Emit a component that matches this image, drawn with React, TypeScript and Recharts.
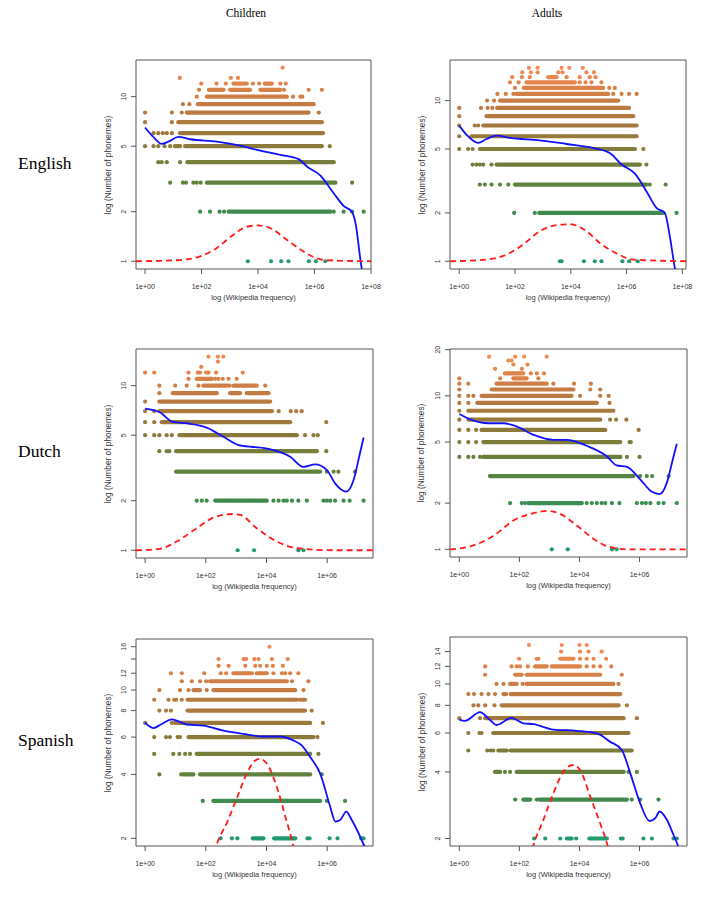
import { ComposedChart, Scatter, Line, XAxis, YAxis, ReferenceArea } from 'recharts';

type Row = { n: number; dots: number[]; runs?: number[][] };

// x values are log10(Wikipedia frequency), n = number of phonemes

const engChildRows: Row[] = [
  { n: 15, dots: [4.87] },
  { n: 13, dots: [1.23, 3.04, 3.29] },
  { n: 12, dots: [1.99, 2.53, 2.86, 3.82, 4.04, 4.79, 4.98], runs: [[3.13, 3.6], [4.24, 4.49]] },
  { n: 11, dots: [1.91, 4.92, 5.79, 6.26], runs: [[2.26, 2.78], [3.01, 3.72], [4.08, 4.79]] },
  { n: 10, dots: [1.83, 5.24, 5.5, 5.57], runs: [[2.19, 5.02]] },
  { n: 9, dots: [1.34, 1.57], runs: [[1.87, 5.97]] },
  { n: 8, dots: [0, 0.95, 1.3, 6.15], runs: [[1.48, 5.79]] },
  { n: 7, dots: [0, 0.95], runs: [[1.18, 6.26]] },
  { n: 6, dots: [0.3, 0.47, 0.63, 0.77, 0.95], runs: [[1.24, 6.3]] },
  { n: 5, dots: [0, 0.3, 0.47, 0.69, 0.89, 6.54], runs: [[1.06, 1.24], [1.42, 6.26]] },
  { n: 4, dots: [0.47, 0.59, 0.77, 1.24], runs: [[1.5, 6.68]] },
  { n: 3, dots: [0.89, 1.34, 1.45, 1.71, 1.83, 1.97, 7.33], runs: [[2.19, 6.74]] },
  { n: 2, dots: [1.95, 2.3, 2.64, 2.8, 6.68, 7.03, 7.33, 7.74], runs: [[2.96, 6.56]] },
  { n: 1, dots: [3.64, 4.46, 4.82, 5.08, 5.8, 6.05, 6.38] },
];
const engChildSmooth = [[0, 6.49], [0.3, 5.67], [0.59, 5.17], [0.83, 5.33], [1.18, 5.69], [1.6, 5.51], [2.54, 5.33], [3.49, 4.98], [3.96, 4.75], [4.79, 4.43], [5.44, 4.17], [5.73, 3.76], [6.21, 3.31], [6.68, 2.59], [7.03, 2.17], [7.33, 1.99], [7.45, 1.71], [7.68, 0.89], [7.75, 0.8]];
const engChildDensity = [[-0.32, 1], [1.12, 1.014], [1.95, 1.07], [2.54, 1.205], [3.13, 1.45], [3.6, 1.62], [4.0, 1.65], [4.43, 1.59], [5.02, 1.35], [5.5, 1.18], [5.97, 1.06], [6.44, 1.014], [8.0, 1]];

const engAdultRows: Row[] = [
  { n: 16, dots: [2.5, 2.81, 3.67, 3.94, 4.43] },
  { n: 15, dots: [2.26, 2.57, 2.81, 3.55, 3.7, 4.56, 4.83] },
  { n: 14, dots: [1.9, 2.25, 2.53, 3.85, 4.32, 4.68, 4.89], runs: [[3.19, 3.49]] },
  { n: 13, dots: [1.82, 2.13, 4.32, 4.53, 4.74, 5.1], runs: [[2.41, 4.15]] },
  { n: 12, dots: [2.0, 5.38, 5.58], runs: [[2.32, 5.16]] },
  { n: 11, dots: [1.37, 1.67, 1.94, 5.52, 5.82, 6.09, 6.36], runs: [[2.05, 5.34]] },
  { n: 10, dots: [1.0, 1.25], runs: [[1.46, 5.7]] },
  { n: 9, dots: [0, 0.78, 1.02, 1.19], runs: [[1.36, 6.09]] },
  { n: 8, dots: [0], runs: [[0.98, 6.24]] },
  { n: 7, dots: [0, 0.56, 0.68], runs: [[0.86, 6.36]] },
  { n: 6, dots: [0], runs: [[0.44, 6.36]] },
  { n: 5, dots: [0, 0.32, 0.48, 6.6], runs: [[0.74, 6.3]] },
  { n: 4, dots: [0.48, 0.62, 0.74, 0.86, 1.16, 6.71], runs: [[1.34, 6.48]] },
  { n: 3, dots: [0.74, 0.92, 1.16, 1.46, 1.76, 6.83, 7.4], runs: [[2.0, 6.71]] },
  { n: 2, dots: [1.97, 2.71, 7.79], runs: [[2.87, 7.31]] },
  { n: 1, dots: [3.61, 3.67, 4.47, 4.86, 5.1, 5.85, 6.09, 6.4] },
];
const engAdultSmooth = [[0, 6.99], [0.26, 6.14], [0.68, 5.45], [0.98, 5.77], [1.34, 6.06], [1.82, 5.86], [2.89, 5.66], [3.85, 5.37], [4.8, 5.08], [5.4, 4.72], [5.82, 4.0], [6.3, 3.51], [6.71, 2.73], [7.07, 2.15], [7.37, 2.0], [7.55, 1.43], [7.74, 0.89], [7.8, 0.8]];
const engAdultDensity = [[-0.33, 1], [0.98, 1.024], [1.7, 1.1], [2.29, 1.27], [2.89, 1.54], [3.49, 1.68], [3.97, 1.7], [4.56, 1.54], [5.04, 1.3], [5.64, 1.12], [6.24, 1.024], [8.13, 1]];

const dutchChildRows: Row[] = [
  { n: 15, dots: [2.09, 2.4, 2.58] },
  { n: 14, dots: [2.4] },
  { n: 13, dots: [1.85] },
  { n: 12, dots: [0, 0.3, 1.43, 1.74, 1.81, 2.01, 2.09, 2.34, 3.22] },
  { n: 11, dots: [1.43, 2.31, 2.42, 2.56, 2.75, 3.02], runs: [[1.7, 2.2]] },
  { n: 10, dots: [0.47, 0.99, 1.37, 1.76, 2.78, 3.96], runs: [[1.92, 2.69], [2.91, 3.68]] },
  { n: 9, dots: [0.47], runs: [[0.91, 2.36], [2.8, 3.13], [3.35, 4.07]] },
  { n: 8, dots: [0], runs: [[0.47, 4.12]] },
  { n: 7, dots: [0, 0.3, 4.4, 4.8, 4.98, 5.16], runs: [[0.47, 4.18]] },
  { n: 6, dots: [0, 0.3, 5.97], runs: [[0.55, 4.78]] },
  { n: 5, dots: [0, 0.3, 0.47, 0.71, 0.88, 5.27, 5.55, 5.69], runs: [[1.13, 5.0]] },
  { n: 4, dots: [0.47, 0.71, 0.8, 5.97], runs: [[1.02, 5.66]] },
  { n: 3, dots: [5.99, 6.21, 6.37, 6.92], runs: [[1.02, 5.77]] },
  { n: 2, dots: [1.7, 1.87, 2.03, 4.23, 4.4, 4.56, 4.67, 4.84, 5.05, 5.33, 5.88, 5.99, 6.1, 6.26, 6.54, 6.74, 7.2], runs: [[2.31, 4.01]] },
  { n: 1, dots: [3.05, 3.59, 5.05, 5.22] },
];
const dutchChildSmooth = [[0, 7.26], [0.47, 6.92], [0.91, 6.02], [1.43, 5.89], [2.03, 5.56], [2.58, 4.89], [3.13, 4.33], [4.01, 4.15], [4.78, 3.7], [5.22, 3.21], [5.6, 3.32], [5.99, 3.07], [6.26, 2.55], [6.63, 2.27], [6.87, 2.67], [7.03, 3.53], [7.2, 4.84]];
const dutchChildDensity = [[-0.3, 1], [0.49, 1.02], [1.04, 1.13], [1.7, 1.36], [2.25, 1.58], [2.86, 1.66], [3.13, 1.64], [3.68, 1.36], [4.34, 1.13], [5.0, 1.03], [6.21, 1], [7.51, 1]];

const dutchAdultRows: Row[] = [
  { n: 18, dots: [0.99, 1.86, 2.16, 2.91] },
  { n: 17, dots: [1.63, 1.74] },
  { n: 16, dots: [1.8, 2.27] },
  { n: 15, dots: [1.19, 2.08] },
  { n: 14, dots: [2.38, 2.58, 2.82], runs: [[1.52, 2.13]] },
  { n: 13, dots: [0, 1.36, 2.63], runs: [[1.8, 2.24]] },
  { n: 12, dots: [0, 0.3, 3.13, 3.82, 4.38], runs: [[1.24, 2.91]] },
  { n: 11, dots: [0, 4.36, 4.69], runs: [[1.08, 3.8]] },
  { n: 10, dots: [0, 0.3, 0.47, 4.02, 4.69, 4.97], runs: [[0.74, 3.74]] },
  { n: 9, dots: [0, 0.3, 5.0], runs: [[0.6, 4.58]] },
  { n: 8, dots: [0], runs: [[0.3, 5.13]] },
  { n: 7, dots: [0, 5.02, 5.22, 5.56], runs: [[0.3, 4.69]] },
  { n: 6, dots: [0, 0.3, 0.56, 5.97], runs: [[0.74, 4.86]] },
  { n: 5, dots: [0, 0.3, 0.56, 5.67, 5.71], runs: [[0.8, 5.36]] },
  { n: 4, dots: [0, 0.3, 0.47, 0.69, 5.58, 6.0], runs: [[0.8, 5.36]] },
  { n: 3, dots: [6.02, 6.24, 6.42, 6.97], runs: [[1.02, 5.8]] },
  { n: 2, dots: [1.69, 2.08, 2.19, 4.24, 4.41, 4.58, 4.74, 4.86, 5.08, 5.33, 5.91, 6.08, 6.21, 6.36, 6.63, 6.8, 7.24], runs: [[2.3, 4.08]] },
  { n: 1, dots: [3.08, 3.61, 5.08, 5.24] },
];
const dutchAdultSmooth = [[0, 7.62], [0.41, 6.97], [0.97, 6.63], [1.47, 6.63], [1.86, 6.37], [2.47, 5.57], [3.13, 5.17], [3.58, 5.17], [4.24, 4.73], [4.91, 4.04], [5.24, 3.52], [5.58, 3.45], [6.02, 2.86], [6.41, 2.37], [6.67, 2.29], [6.91, 2.72], [7.08, 3.66], [7.24, 4.88]];
const dutchAdultDensity = [[-0.31, 1], [0.47, 1.06], [1.13, 1.22], [1.8, 1.54], [2.47, 1.72], [2.91, 1.78], [3.36, 1.7], [3.91, 1.43], [4.47, 1.17], [4.91, 1.05], [5.58, 1], [7.58, 1]];

const spanChildRows: Row[] = [
  { n: 16, dots: [4.1] },
  { n: 14, dots: [2.42, 3.24, 3.33, 3.6, 3.74, 4.18, 4.7] },
  { n: 13, dots: [2.42, 2.75, 3.3, 3.63, 3.79, 4.01, 4.21, 4.54] },
  { n: 12, dots: [0.85, 1.21, 1.95, 2.49, 2.67, 4.23, 4.51, 4.62, 4.78, 5.05], runs: [[2.91, 3.52], [3.68, 4.01]] },
  { n: 11, dots: [1.21, 1.54, 1.81, 2.01, 4.84, 5.38], runs: [[2.14, 4.67]] },
  { n: 10, dots: [0.47, 1.15, 1.43, 2.03, 5.22], runs: [[1.59, 1.81], [2.25, 4.95]] },
  { n: 9, dots: [0.3, 0.77, 0.96, 1.02, 1.21], runs: [[1.4, 5.0], [5.11, 5.27]] },
  { n: 8, dots: [0.47, 0.69, 0.85, 5.49], runs: [[1.4, 5.27]] },
  { n: 7, dots: [0, 0.88, 5.86], runs: [[0.99, 5.44]] },
  { n: 6, dots: [0.3, 0.69, 0.82, 1.07, 1.15, 1.43, 5.68], runs: [[1.48, 5.55]] },
  { n: 5, dots: [0.3, 0.93, 1.13, 1.32, 1.48, 5.71], runs: [[1.7, 5.44]] },
  { n: 4, dots: [0.47, 1.19, 5.82], runs: [[1.26, 1.59], [1.81, 5.44]] },
  { n: 3, dots: [1.9, 5.99, 6.59], runs: [[2.25, 5.77]] },
  { n: 2, dots: [2.49, 2.86, 3.04, 5.35, 5.42, 6.08, 6.34, 7.12, 7.2], runs: [[3.55, 3.9], [4.25, 4.95]] },
];
const spanChildSmooth = [[0, 7.02], [0.27, 6.62], [0.55, 6.92], [0.88, 7.28], [1.37, 6.88], [1.92, 6.8], [2.58, 6.44], [3.24, 6.21], [3.9, 6.04], [4.45, 6.04], [4.89, 5.78], [5.16, 5.48], [5.44, 4.83], [5.77, 4.04], [6.1, 2.82], [6.27, 2.4], [6.43, 2.44], [6.63, 2.67], [6.81, 2.44], [7.03, 2.12], [7.2, 1.87], [7.3, 1.75]];
const spanChildDensity = [[-0.3, 1], [1.5, 1.02], [2.03, 1.24], [2.36, 1.87], [2.69, 2.36], [3.02, 3.08], [3.35, 4.04], [3.63, 4.66], [3.79, 4.74], [4.01, 4.5], [4.34, 3.5], [4.62, 2.53], [4.87, 1.87], [5.11, 1.24], [6.0, 1.01], [7.51, 1]];

const spanAdultRows: Row[] = [
  { n: 15, dots: [2.32, 3.41, 4.0, 4.24] },
  { n: 14, dots: [3.39, 4.02, 4.3, 4.74] },
  { n: 13, dots: [1.99, 2.58, 2.63, 4.02, 4.24, 4.47, 4.89], runs: [[3.36, 3.8]] },
  { n: 12, dots: [0.86, 1.74, 1.91, 2.02, 2.28, 4.24, 4.47, 4.69, 5.06], runs: [[2.52, 2.91], [3.08, 4.02]] },
  { n: 11, dots: [0.86, 5.41], runs: [[1.86, 2.08], [2.24, 4.69]] },
  { n: 10, dots: [1.24, 1.47, 2.11, 5.3], runs: [[1.69, 1.91], [2.24, 5.13]] },
  { n: 9, dots: [0.3, 0.49, 0.74, 0.97, 1.19], runs: [[1.47, 1.56], [1.71, 5.36]] },
  { n: 8, dots: [0.47, 0.63, 0.86, 1.17, 5.58], runs: [[1.41, 5.3]] },
  { n: 7, dots: [0, 0.69, 5.91], runs: [[0.86, 5.47]] },
  { n: 6, dots: [0.3, 0.67, 0.74], runs: [[1.13, 5.63]] },
  { n: 5, dots: [0.3, 0.93, 1.04, 1.13], runs: [[1.3, 1.58], [1.71, 5.74]] },
  { n: 4, dots: [1.52, 1.69, 5.63, 5.91], runs: [[1.19, 1.36], [1.91, 5.47]] },
  { n: 3, dots: [1.86, 2.58, 5.74, 6.02, 6.63], runs: [[2.13, 2.36], [2.67, 5.58]] },
  { n: 2, dots: [2.49, 2.86, 3.36, 3.89, 5.38, 5.44, 6.13, 6.41, 7.13, 7.24], runs: [[3.58, 3.74], [4.33, 4.91]] },
];
const spanAdultSmooth = [[0, 6.9], [0.19, 6.81], [0.69, 7.45], [0.97, 6.98], [1.24, 6.52], [1.74, 7.03], [2.13, 6.63], [2.47, 6.58], [3.13, 6.22], [3.91, 6.14], [4.58, 5.97], [5.02, 5.48], [5.41, 5.03], [5.69, 3.95], [6.02, 2.89], [6.33, 2.4], [6.52, 2.47], [6.67, 2.65], [6.91, 2.43], [7.11, 2.11], [7.27, 1.87], [7.35, 1.75]];
const spanAdultDensity = [[-0.31, 1], [1.6, 1.02], [2.15, 1.24], [2.47, 1.87], [2.8, 2.43], [3.13, 3.2], [3.47, 4.01], [3.78, 4.3], [4.02, 4.08], [4.36, 3.09], [4.69, 2.34], [4.93, 1.87], [5.2, 1.24], [6.0, 1.01], [7.58, 1]];

const ticksEng = [0, 2, 4, 6, 8];
const ticksOther = [0, 2, 4, 6];

const stops: [number, number[]][] = [
  [0, [35, 153, 110]], [0.07, [62, 138, 76]], [0.14, [95, 130, 62]], [0.21, [118, 125, 58]],
  [0.29, [140, 122, 58]], [0.36, [156, 121, 60]], [0.43, [172, 121, 62]], [0.6, [200, 124, 68]],
  [0.8, [228, 132, 76]], [1, [244, 140, 86]],
];
function rowColor(t: number) {
  for (let i = 1; i < stops.length; i++) {
    const [t1, c1] = stops[i];
    const [t0, c0] = stops[i - 1];
    if (t <= t1) {
      const f = (t - t0) / (t1 - t0);
      const c = c0.map((v, k) => Math.round(v + (c1[k] - v) * f));
      return `rgb(${c[0]},${c[1]},${c[2]})`;
    }
  }
  return 'rgb(244,140,86)';
}

const pts = (arr: number[][]) => arr.map(([x, y]) => ({ x, y }));
const fmtX = (v: number) => `1e+${String(v).padStart(2, '0')}`;

const sans = '"Liberation Sans", Arial, Helvetica, sans-serif';
const serif = '"Liberation Serif", "Times New Roman", serif';

type PanelProps = {
  left: number; top: number; w: number; h: number;
  rows: Row[]; smooth: number[][]; density: number[][];
  xDomain: number[]; yDomain: number[]; xTicks: number[]; yTicks: number[]; hideY?: number[];
};

const LM = 40;
const TM = 5;
const BM = 40;
const RM = 20;

function Panel({ left, top, w, h, rows, smooth, density, xDomain, yDomain, xTicks, yTicks, hideY = [] }: PanelProps) {
  const ns = rows.map((r) => r.n);
  const lo = Math.min(...ns);
  const hi = Math.max(...ns);
  const col = (n: number) => rowColor((n - lo) / (hi - lo));

  const XTick = ({ x, y, payload }: any) => (
    <text x={x} y={y} dy={6} textAnchor="middle" fontSize={7} fontFamily={sans} fill="#333">
      {fmtX(payload.value)}
    </text>
  );
  const YTick = ({ x, y, payload }: any) =>
    hideY.includes(payload.value) ? <g /> : (
      <text x={x} y={y} transform={`rotate(-90 ${x} ${y})`} textAnchor="middle" fontSize={7} fontFamily={sans} fill="#333">
        {payload.value}
      </text>
    );

  return (
    <div style={{ position: 'absolute', left: left - LM, top: top - TM }}>
      <ComposedChart width={w + LM + RM} height={h + TM + BM} margin={{ top: TM, right: RM, bottom: 0, left: 0 }}>
        <XAxis type="number" dataKey="x" domain={xDomain} ticks={xTicks} interval={0} allowDataOverflow
          height={BM} tickSize={5} tickMargin={9} axisLine={false} tickLine={{ stroke: '#555' }} tick={XTick} />
        <YAxis type="number" dataKey="y" scale="log" domain={yDomain} ticks={yTicks} interval={0} allowDataOverflow
          width={LM} tickSize={5} tickMargin={5} axisLine={false} tickLine={{ stroke: '#555' }} tick={YTick} />
        <ReferenceArea x1={xDomain[0]} x2={xDomain[1]} y1={yDomain[0]} y2={yDomain[1]} ifOverflow="visible"
          fill="none" stroke="#555" strokeWidth={1} />
        {rows.flatMap((r) =>
          (r.runs || []).map((seg, i) => (
            <Line key={`run-${r.n}-${i}`} data={[{ x: seg[0], y: r.n }, { x: seg[1], y: r.n }]} dataKey="y"
              type="linear" stroke={col(r.n)} strokeWidth={4.2} strokeLinecap="round" dot={false}
              isAnimationActive={false} />
          ))
        )}
        {rows.map((r) => (
          <Scatter key={`dots-${r.n}`} data={r.dots.map((x) => ({ x, y: r.n }))} isAnimationActive={false}
            shape={(p: any) => <circle cx={p.cx} cy={p.cy} r={2.1} fill={col(r.n)} />} />
        ))}
        <Line data={pts(smooth)} dataKey="y" type="monotone" stroke="#1010ff" strokeWidth={1.8} dot={false}
          isAnimationActive={false} zIndex={700} />
        <Line data={pts(density)} dataKey="y" type="monotone" stroke="#ff1a1a" strokeWidth={1.8}
          strokeDasharray="6 4" dot={false} isAnimationActive={false} zIndex={700} />
      </ComposedChart>
      <div style={{ position: 'absolute', left: LM, top: TM + h + 24, width: w, textAlign: 'center',
        fontFamily: sans, fontSize: 7.5, color: '#333', lineHeight: '10px' }}>
        log (Wikipedia frequency)
      </div>
      <div style={{ position: 'absolute', left: LM - 29 - h / 2, top: TM + h / 2 - 5, width: h, textAlign: 'center',
        fontFamily: sans, fontSize: 8.3, color: '#333', lineHeight: '10px', transform: 'rotate(-90deg)' }}>
        log (Number of phonemes)
      </div>
    </div>
  );
}

export default function App() {
  return (
    <div style={{ position: 'absolute', left: 0, top: 0, width: 717, height: 903, background: '#fff', overflow: 'hidden' }}>
      <div style={{ position: 'absolute', left: 196, top: 7, width: 100, textAlign: 'center', fontFamily: serif, fontSize: 11.5 }}>Children</div>
      <div style={{ position: 'absolute', left: 497, top: 7, width: 100, textAlign: 'center', fontFamily: serif, fontSize: 11.5 }}>Adults</div>
      <div style={{ position: 'absolute', left: 18, top: 153, fontFamily: serif, fontSize: 17.5 }}>English</div>
      <div style={{ position: 'absolute', left: 18, top: 441, fontFamily: serif, fontSize: 17.5 }}>Dutch</div>
      <div style={{ position: 'absolute', left: 18, top: 730, fontFamily: serif, fontSize: 17.5 }}>Spanish</div>

      <Panel left={136} top={60} w={235} h={209} rows={engChildRows} smooth={engChildSmooth} density={engChildDensity}
        xDomain={[-0.32, 8.0]} yDomain={[0.897, 16.7]} xTicks={ticksEng} yTicks={[1, 2, 5, 10]} />
      <Panel left={450} top={60} w={236} h={209} rows={engAdultRows} smooth={engAdultSmooth} density={engAdultDensity}
        xDomain={[-0.33, 8.13]} yDomain={[0.895, 17.9]} xTicks={ticksEng} yTicks={[1, 2, 5, 10]} />
      <Panel left={136} top={349} w={237} h={209} rows={dutchChildRows} smooth={dutchChildSmooth} density={dutchChildDensity}
        xDomain={[-0.3, 7.51]} yDomain={[0.897, 16.7]} xTicks={ticksOther} yTicks={[1, 2, 5, 10]} />
      <Panel left={450} top={349} w={237} h={208} rows={dutchAdultRows} smooth={dutchAdultSmooth} density={dutchAdultDensity}
        xDomain={[-0.31, 7.58]} yDomain={[0.891, 20.2]} xTicks={ticksOther} yTicks={[1, 2, 5, 10, 20]} />
      <Panel left={136} top={639} w={237} h={207} rows={spanChildRows} smooth={spanChildSmooth} density={spanChildDensity}
        xDomain={[-0.3, 7.51]} yDomain={[1.84, 17.4]} xTicks={ticksOther} yTicks={[2, 4, 6, 8, 10, 12, 14, 16]} hideY={[14]} />
      <Panel left={450} top={637} w={237} h={209} rows={spanAdultRows} smooth={spanAdultSmooth} density={spanAdultDensity}
        xDomain={[-0.31, 7.58]} yDomain={[1.85, 16.3]} xTicks={ticksOther} yTicks={[2, 4, 6, 8, 10, 12, 14]} />
    </div>
  );
}
